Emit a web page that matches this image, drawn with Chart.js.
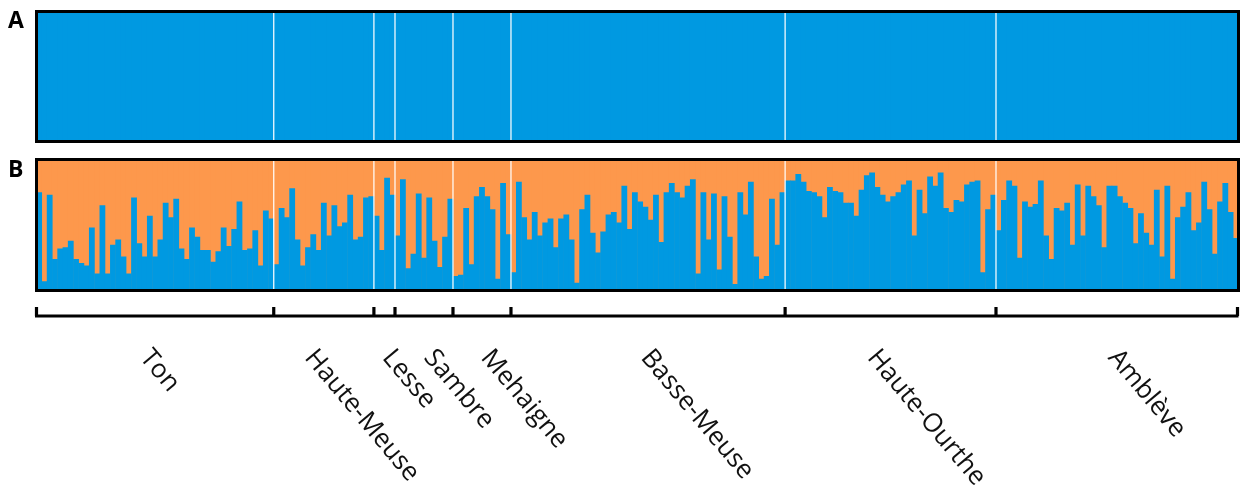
<!DOCTYPE html>
<html>
<head>
<meta charset="utf-8">
<script src="https://cdn.jsdelivr.net/npm/chart.js@4/dist/chart.umd.min.js"></script>
<style>
html, body { margin: 0; padding: 0; background: #fff; }
#wrap { position: relative; width: 1240px; height: 497px; overflow: hidden; }
canvas { position: absolute; left: 0; }
#chartA { top: 0; }
#chartB { top: 150px; }
.tag { position: absolute; left: 8px; font: bold 23px 'Open Sans', sans-serif; color: #000; line-height: 1; }
</style>
</head>
<body>
<div id="wrap">
  <canvas id="chartA" width="1240" height="150"></canvas>
  <canvas id="chartB" width="1240" height="347"></canvas>
  <div class="tag" style="top:8px">A</div>
  <div class="tag" style="top:157px">B</div>
</div>
<script>
// populations (sampling sites) in plot order
const groups = ['Ton', 'Haute-Meuse', 'Lesse', 'Sambre', 'Mehaigne', 'Basse-Meuse', 'Haute-Ourthe', 'Amblève'];

// K=2 membership to the blue cluster, one value per individual (panel B)
const ton = [0.75, 0.07, 0.73, 0.24, 0.32, 0.33, 0.38, 0.24, 0.21, 0.19, 0.48, 0.13, 0.65, 0.13, 0.35,
  0.39, 0.26, 0.13, 0.71, 0.36, 0.26, 0.57, 0.26, 0.39, 0.67, 0.56, 0.70, 0.32, 0.24, 0.48,
  0.41, 0.31, 0.31, 0.22, 0.30, 0.48, 0.34, 0.47, 0.68, 0.31, 0.32, 0.46, 0.19, 0.61, 0.55];
const hauteMeuse = [0.20, 0.63, 0.56, 0.78, 0.39, 0.19, 0.33, 0.43, 0.31, 0.67, 0.42, 0.65, 0.49, 0.52,
  0.73, 0.39, 0.41, 0.71, 0.72];
const lesse = [0.57, 0.31, 0.86, 0.73];
const sambre = [0.42, 0.85, 0.17, 0.28, 0.74, 0.25, 0.71, 0.38, 0.18, 0.41, 0.70];
const mehaigne = [0.11, 0.12, 0.63, 0.20, 0.72, 0.79, 0.72, 0.62, 0.09, 0.82, 0.43];
const basseMeuse = [0.14, 0.83, 0.56, 0.39, 0.60, 0.42, 0.52, 0.55, 0.33, 0.55, 0.58, 0.39, 0.06,
  0.62, 0.73, 0.44, 0.29, 0.45, 0.58, 0.60, 0.52, 0.80, 0.47, 0.75, 0.68, 0.64, 0.54, 0.73,
  0.37, 0.75, 0.82, 0.75, 0.71, 0.80, 0.85, 0.13, 0.75, 0.39, 0.74, 0.16, 0.72, 0.41, 0.05,
  0.75, 0.58, 0.83, 0.26, 0.09, 0.11, 0.70, 0.35, 0.75];
const hauteOurthe = [0.84, 0.84, 0.89, 0.83, 0.76, 0.75, 0.72, 0.56, 0.79, 0.76, 0.75, 0.67, 0.67,
  0.57, 0.77, 0.88, 0.90, 0.79, 0.73, 0.68, 0.72, 0.75, 0.81, 0.84, 0.42, 0.77, 0.59, 0.87,
  0.80, 0.90, 0.63, 0.60, 0.69, 0.68, 0.81, 0.83, 0.84, 0.14, 0.62, 0.73];
const ambleve = [0.46, 0.69, 0.84, 0.80, 0.25, 0.68, 0.64, 0.66, 0.84, 0.42, 0.24, 0.63, 0.61, 0.67,
  0.35, 0.81, 0.42, 0.80, 0.72, 0.65, 0.33, 0.80, 0.80, 0.72, 0.67, 0.63, 0.36, 0.59, 0.44,
  0.35, 0.77, 0.26, 0.80, 0.09, 0.56, 0.64, 0.75, 0.46, 0.52, 0.83, 0.62, 0.28, 0.68, 0.82,
  0.60, 0.40];

const perGroup = [ton, hauteMeuse, lesse, sambre, mehaigne, basseMeuse, hauteOurthe, ambleve];
const blueB = perGroup.flat();
const orangeB = blueB.map(v => 1 - v);
// K=1: every individual fully in the single cluster
const blueA = blueB.map(() => 1);
const individuals = perGroup.flatMap((g, gi) => g.map((_, i) => groups[gi] + ' ' + (i + 1)));

const BLUE = '#0099e1';
const ORANGE = '#fd984c';
// small hand nudges so group names sit where the original has them
const labelShift = [-16, -20, -3, -1, -2, -8, -24, -10];

// index of first individual in each group
const starts = [];
perGroup.reduce((acc, g) => { starts.push(acc); return acc + g.length; }, 0);

function boundaryPx(scale, i) {
    return (scale.getPixelForValue(i - 1) + scale.getPixelForValue(i)) / 2;
}

const panelFrame = {
    id: 'panelFrame',
    beforeDatasetsDraw(chart, args, opts) {
        const a = chart.chartArea, ctx = chart.ctx;
        ctx.save();
        ctx.fillStyle = opts.fill;
        ctx.fillRect(a.left, a.top, a.width, a.height);
        ctx.restore();
    },
    afterDatasetsDraw(chart) {
        const a = chart.chartArea, ctx = chart.ctx, x = chart.scales.x;
        ctx.save();
        ctx.strokeStyle = 'rgba(255,255,255,0.95)';
        ctx.lineWidth = 1.3;
        starts.slice(1).forEach(i => {
            const px = boundaryPx(x, i);
            ctx.beginPath();
            ctx.moveTo(px, a.top);
            ctx.lineTo(px, a.bottom);
            ctx.stroke();
        });
        ctx.strokeStyle = '#000';
        ctx.lineWidth = 3;
        ctx.strokeRect(a.left, a.top, a.width, a.height);
        ctx.restore();
    }
};

const groupAxis = {
    id: 'groupAxis',
    afterDraw(chart) {
        const a = chart.chartArea, ctx = chart.ctx, x = chart.scales.x;
        const yLine = a.bottom + 25.5;
        ctx.save();
        ctx.strokeStyle = '#000';
        ctx.lineWidth = 3.2;
        ctx.lineCap = 'butt';
        ctx.beginPath();
        ctx.moveTo(a.left - 1.5, yLine);
        ctx.lineTo(a.right, yLine);
        const tickX = [a.left].concat(starts.slice(1).map(i => boundaryPx(x, i)), [a.right - 1]);
        tickX.forEach(px => {
            ctx.moveTo(px, yLine);
            ctx.lineTo(px, yLine - 9);
        });
        ctx.stroke();

        ctx.fillStyle = '#111';
        ctx.font = "26px 'Open Sans', sans-serif";
        ctx.textAlign = 'left';
        ctx.textBaseline = 'alphabetic';
        groups.forEach((name, gi) => {
            const first = starts[gi];
            const last = first + perGroup[gi].length - 1;
            const cx = (x.getPixelForValue(first) + x.getPixelForValue(last)) / 2;
            ctx.save();
            ctx.translate(cx + labelShift[gi], a.bottom + 67.5);
            ctx.rotate(50 * Math.PI / 180);
            ctx.fillText(name, 0, 0);
            ctx.restore();
        });
        ctx.restore();
    }
};

function panelOptions(fill, padding) {
    return {
        responsive: false,
        animation: false,
        layout: { padding: padding },
        scales: {
            x: { stacked: true, display: false },
            y: { stacked: true, display: false, min: 0, max: 1 }
        },
        plugins: {
            legend: { display: false },
            tooltip: { enabled: false },
            panelFrame: { fill: fill }
        }
    };
}

// blue bars overlap a hair so no seams show; orange sits on the orange panel fill
const blueStyle = { barPercentage: 1.1, categoryPercentage: 1, borderWidth: 0 };
const orangeStyle = { barPercentage: 1, categoryPercentage: 1, borderWidth: 0 };

new Chart(document.getElementById('chartA'), {
    type: 'bar',
    data: {
        labels: individuals,
        datasets: [
            Object.assign({ data: blueA, backgroundColor: BLUE }, blueStyle)
        ]
    },
    options: panelOptions(BLUE, { left: 36.5, right: 1.5, top: 11.5, bottom: 8.5 }),
    plugins: [panelFrame]
});

new Chart(document.getElementById('chartB'), {
    type: 'bar',
    data: {
        labels: individuals,
        datasets: [
            Object.assign({ label: 'cluster 1', data: blueB, backgroundColor: BLUE }, blueStyle),
            Object.assign({ label: 'cluster 2', data: orangeB, backgroundColor: ORANGE }, orangeStyle)
        ]
    },
    options: panelOptions(ORANGE, { left: 36.5, right: 1.5, top: 9.5, bottom: 206.5 }),
    plugins: [panelFrame, groupAxis]
});
</script>
</body>
</html>
